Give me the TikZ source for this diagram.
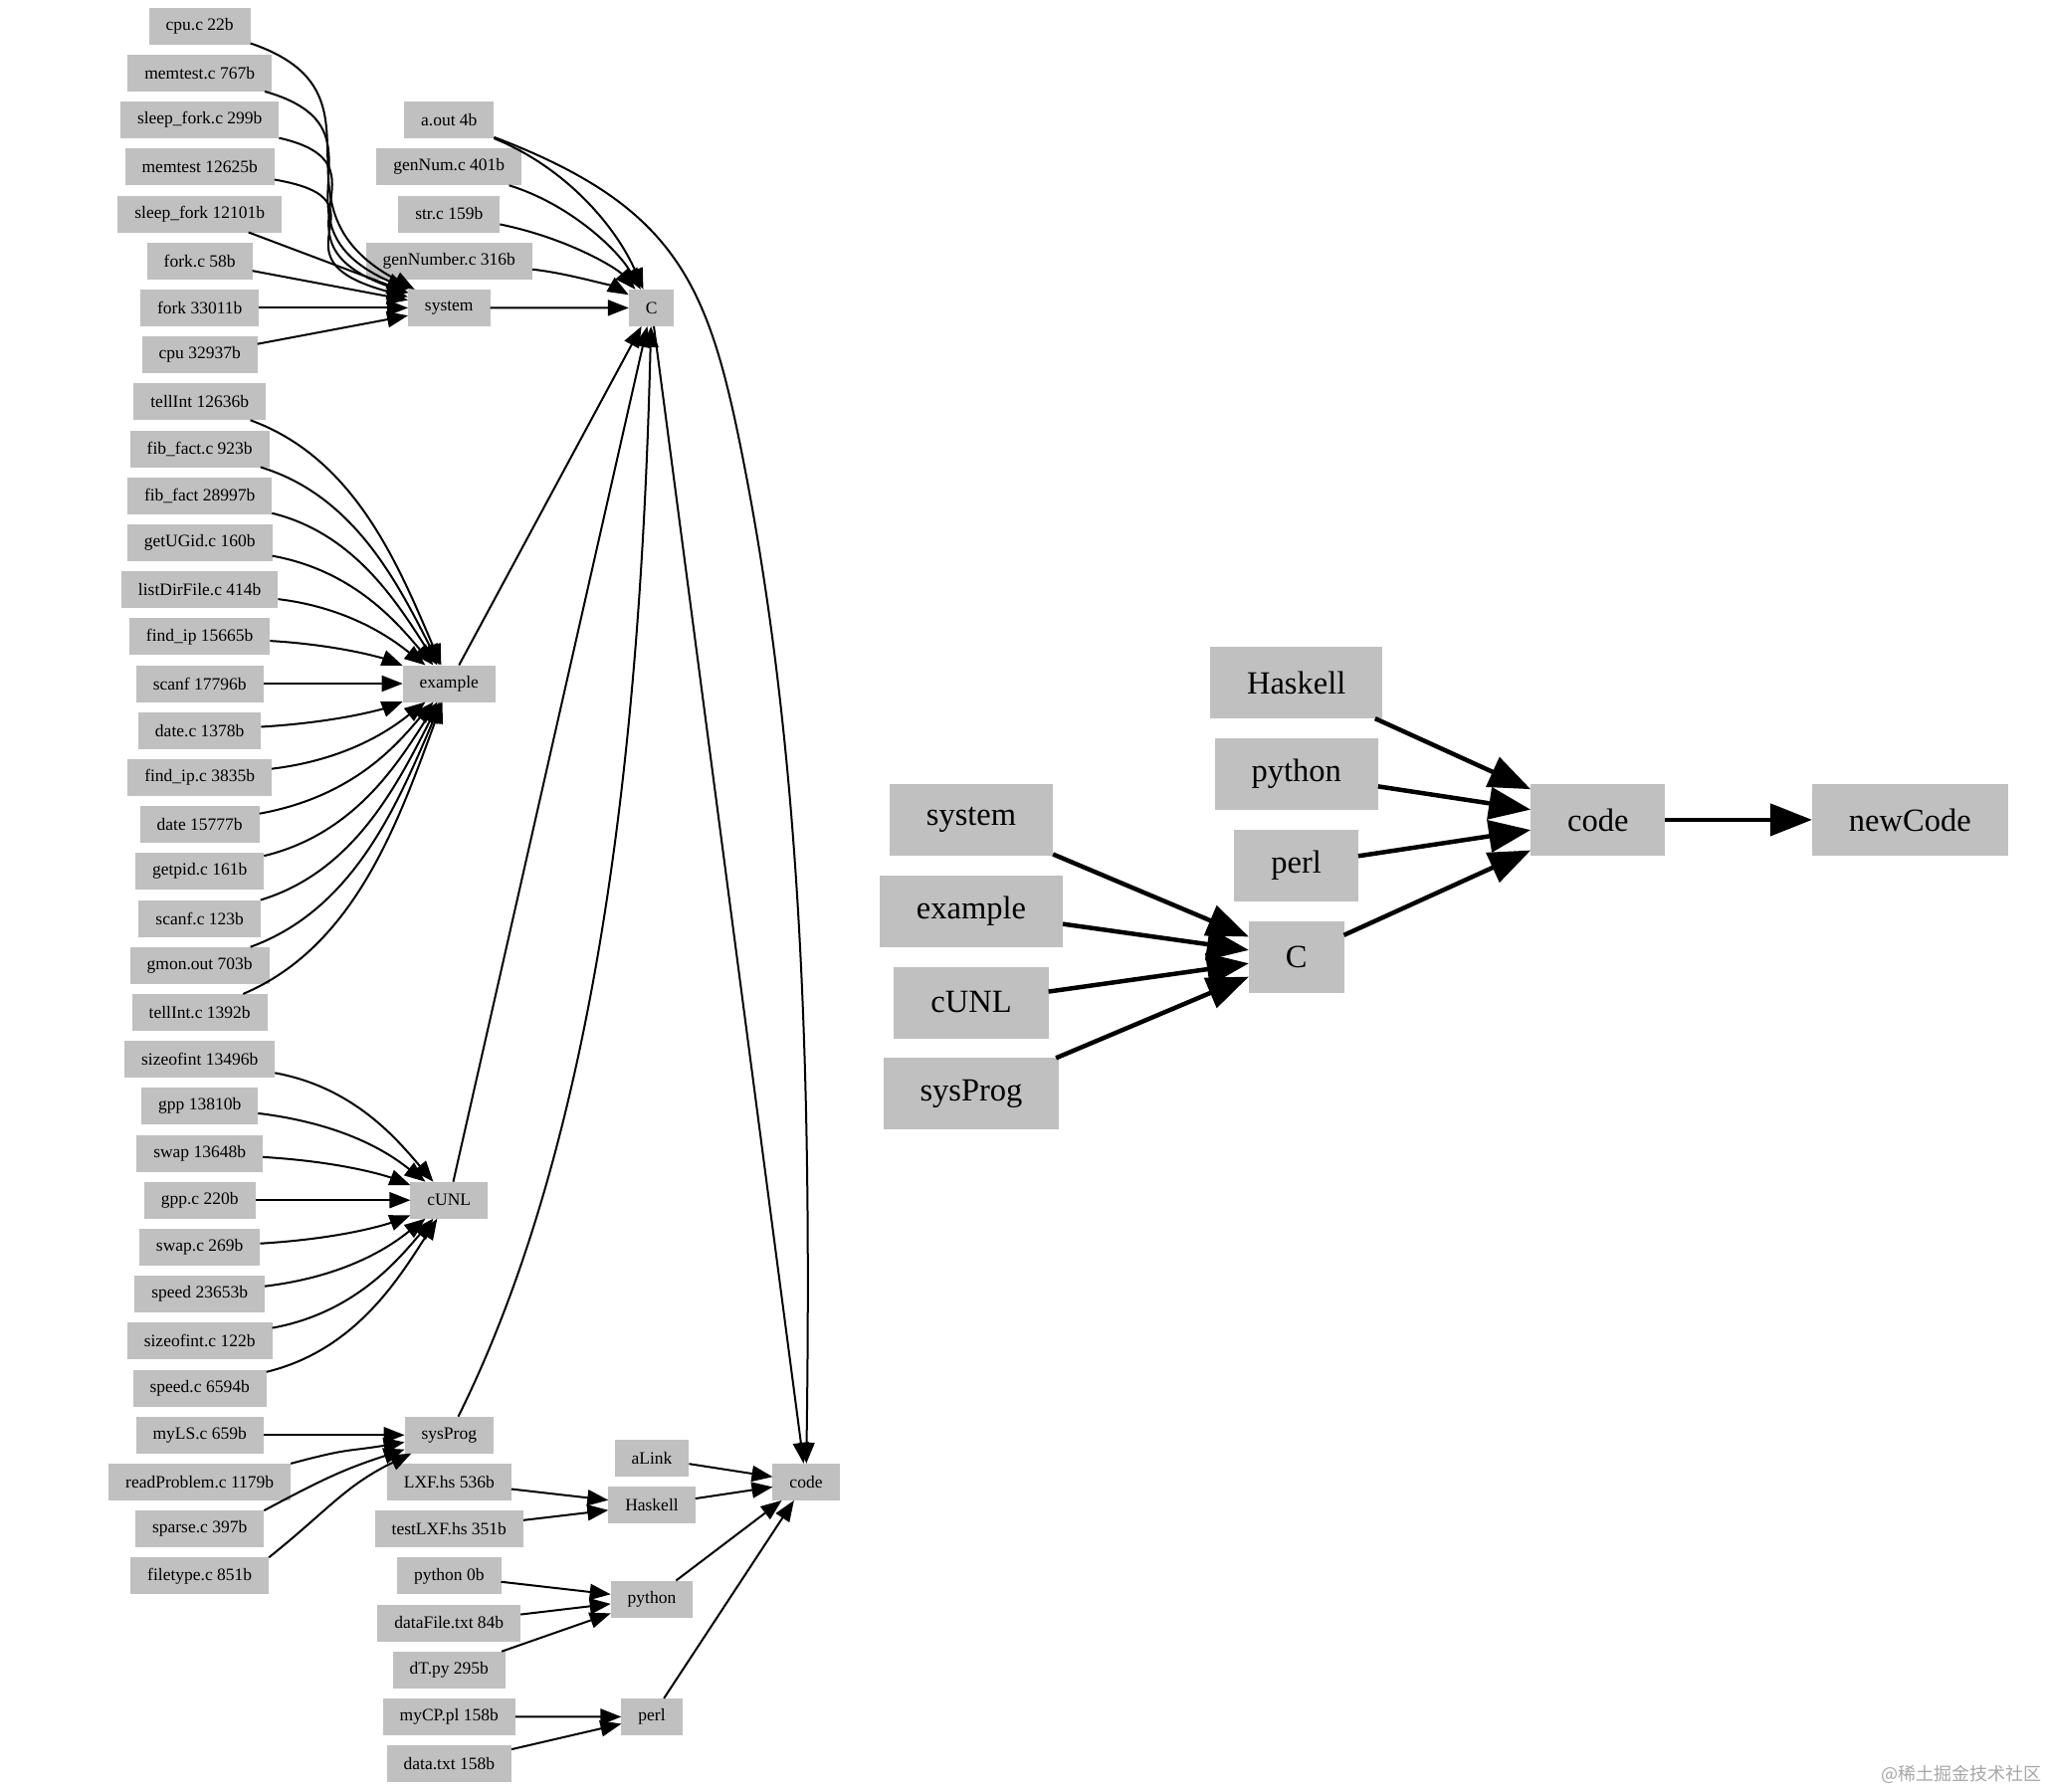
\documentclass[tikz,border=0pt]{standalone}
\usepackage{fontspec}
\setmainfont{Liberation Serif}
\newfontfamily\cjkfont{Noto Sans CJK SC}
\usetikzlibrary{arrows.meta,calc}
\definecolor{boxgray}{HTML}{C0C0C0}
\begin{document}
\begin{tikzpicture}[x=1pt,y=1pt,
  leaf/.style={fill=boxgray, inner xsep=17pt, inner ysep=0pt, minimum height=37pt,
    font=\fontsize{17.5}{20}\selectfont, text=black, outer sep=0pt},
  big/.style={fill=boxgray, inner xsep=37pt, inner ysep=0pt, minimum height=72pt,
    font=\fontsize{32.5}{36}\selectfont, text=black, outer sep=0pt},
  edge/.style={line width=2pt, -{Triangle[length=21pt,width=16pt]}},
  bigedge/.style={line width=4.5pt, -{Triangle[length=42pt,width=32pt]}},
  wmark/.style={font=\cjkfont\fontsize{18}{20}\selectfont, text=gray!70, inner sep=0pt}
]
\useasboundingbox (0,0) rectangle (2057,-1800);

% ---------- left graph: leaves ----------
\foreach \n/\t [count=\i] in {
 cpuc/{cpu.c 22b}, memtestc/{memtest.c 767b}, sleepforkc/{sleep\_fork.c 299b},
 memtest/{memtest 12625b}, sleepfork/{sleep\_fork 12101b}, forkc/{fork.c 58b},
 fork/{fork 33011b}, cpu/{cpu 32937b},
 tellInt/{tellInt 12636b}, fibfactc/{fib\_fact.c 923b}, fibfact/{fib\_fact 28997b},
 getUGidc/{getUGid.c 160b}, listDirFilec/{listDirFile.c 414b}, findip/{find\_ip 15665b},
 scanf/{scanf 17796b}, datec/{date.c 1378b}, findipc/{find\_ip.c 3835b},
 date/{date 15777b}, getpidc/{getpid.c 161b}, scanfc/{scanf.c 123b},
 gmonout/{gmon.out 703b}, tellIntc/{tellInt.c 1392b},
 sizeofint/{sizeofint 13496b}, gpp/{gpp 13810b}, swap/{swap 13648b}, gppc/{gpp.c 220b},
 swapc/{swap.c 269b}, speed/{speed 23653b}, sizeofintc/{sizeofint.c 122b}, speedc/{speed.c 6594b},
 myLSc/{myLS.c 659b}, readProblemc/{readProblem.c 1179b}, sparsec/{sparse.c 397b},
 filetypec/{filetype.c 851b}}
 \node[leaf] (\n) at (200.7,{-26.2-47.2*(\i-1)}) {\t};

% ---------- left graph: middle column ----------
\foreach \n/\t/\r in {
 aout/{a.out 4b}/3, genNumc/{genNum.c 401b}/4, strc/{str.c 159b}/5,
 genNumberc/{genNumber.c 316b}/6, system/{system}/7, example/{example}/15,
 cUNL/{cUNL}/26, sysProg/{sysProg}/31, LXFhs/{LXF.hs 536b}/32,
 testLXFhs/{testLXF.hs 351b}/33, pythonzero/{python 0b}/34,
 dataFiletxt/{dataFile.txt 84b}/35, dTpy/{dT.py 295b}/36,
 myCPpl/{myCP.pl 158b}/37, datatxt/{data.txt 158b}/38}
 \node[leaf] (\n) at (451.3,{-26.2-47.2*(\r-1)}) {\t};

\node[leaf] (Cmid) at (654.6,-309.4) {C};
\node[leaf] (aLink) at (655,-1465.4) {aLink};
\node[leaf] (Haskell) at (655,-1512.6) {Haskell};
\node[leaf] (python) at (655,-1607) {python};
\node[leaf] (perl) at (655,-1725.4) {perl};
\node[leaf] (code) at (810,-1489.4) {code};
\coordinate (aoutbend) at (745,-453);

% ---------- left graph: fans ----------
\foreach \s [count=\i] in {cpuc,memtestc,sleepforkc,memtest}{
  \pgfmathsetmacro\fanD{47.2*(7-\i)}
  \draw[edge] (\s) .. controls ($(\s)+(200,{-0.24*(\fanD)})$) and ($(system)+(-191,{0.36*(\fanD)})$) .. (system);
}
\foreach \s in {sleepfork,forkc,fork,cpu}
  \draw[edge] (\s) -- (system);
\foreach \s [count=\i] in {tellInt,fibfactc,fibfact,getUGidc,listDirFilec,findip,scanf,datec,findipc,date,getpidc,scanfc,gmonout,tellIntc}{
  \pgfmathsetmacro\fanD{47.2*(7-\i)}
  \draw[edge] (\s) .. controls ($(\s)+(156,{-0.2*(\fanD)})$) and ($(example)+(-51,{0.42*(\fanD)})$) .. (example);
}
\foreach \s [count=\i] in {sizeofint,gpp,swap,gppc,swapc,speed,sizeofintc,speedc}{
  \pgfmathsetmacro\fanD{47.2*(4-\i)}
  \draw[edge] (\s) .. controls ($(\s)+(156,{-0.2*(\fanD)})$) and ($(cUNL)+(-51,{0.42*(\fanD)})$) .. (cUNL);
}
\draw[edge] (myLSc) -- (sysProg);
\foreach \s [count=\i from 2] in {readProblemc,sparsec,filetypec}{
  \pgfmathsetmacro\fanD{47.2*(1-\i)}
  \draw[edge] (\s.north east) .. controls ($(\s.north east)+(60,{-0.34*(\fanD)})$) and ($(sysProg)+(-104.6,{0.36*(\fanD)})$) .. (sysProg);
}
\foreach \s/\r in {aout/3,genNumc/4,strc/5,genNumberc/6,system/7}{
  \pgfmathsetmacro\fanD{47.2*(7-\r)}
  \draw[edge] (\s) .. controls ($(\s)+(120,{-0.26*(\fanD)})$) and ($(Cmid)+(-34.6,{0.42*(\fanD)})$) .. (Cmid);
}

\draw[edge] (example) -- (Cmid);
\draw[edge] (cUNL) -- (Cmid);
\draw[edge] (sysProg) .. controls ($(sysProg)+(157.7,317.2)$) and ($(Cmid)+(-9.6,-390.6)$) .. (Cmid);
\draw[edge] (Cmid) -- (code);
\draw[edge] (aout) .. controls ($(aout)+(226.7,-86.4)$) and (711,-283) .. (aoutbend)
  .. controls (805,-753) and (816,-1070) .. (code);

\draw[edge] (LXFhs) -- (Haskell);
\draw[edge] (testLXFhs) -- (Haskell);
\draw[edge] (aLink) -- (code);
\draw[edge] (Haskell) -- (code);
\draw[edge] (pythonzero) -- (python);
\draw[edge] (dataFiletxt) -- (python);
\draw[edge] (dTpy) -- (python);
\draw[edge] (python) -- (code);
\draw[edge] (myCPpl) -- (perl);
\draw[edge] (datatxt) -- (perl);
\draw[edge] (perl) -- (code);

% ---------- right graph ----------
\node[big] (rHaskell) at (1302.7,-686.1) {Haskell};
\node[big] (rpython) at (1302.7,-777.9) {python};
\node[big] (rperl) at (1302.7,-869.7) {perl};
\node[big] (rC) at (1302.7,-961.5) {C};
\node[big] (rsystem) at (976,-823.9) {system};
\node[big] (rexample) at (976,-915.7) {example};
\node[big] (rcUNL) at (976,-1007.5) {cUNL};
\node[big] (rsysProg) at (976,-1099.3) {sysProg};
\node[big] (rcode) at (1605.8,-823.9) {code};
\node[big] (rnewCode) at (1919.3,-823.9) {newCode};

\foreach \s in {rsystem,rexample,rcUNL,rsysProg}
  \draw[bigedge] (\s) -- (rC);
\foreach \s in {rHaskell,rpython,rperl,rC}
  \draw[bigedge] (\s) -- (rcode);
\draw[bigedge] (rcode) -- (rnewCode);

% ---------- watermark ----------
\node[wmark, anchor=east] (wm) at (2052,-1783) {@稀土掘金技术社区};
\end{tikzpicture}
\end{document}
